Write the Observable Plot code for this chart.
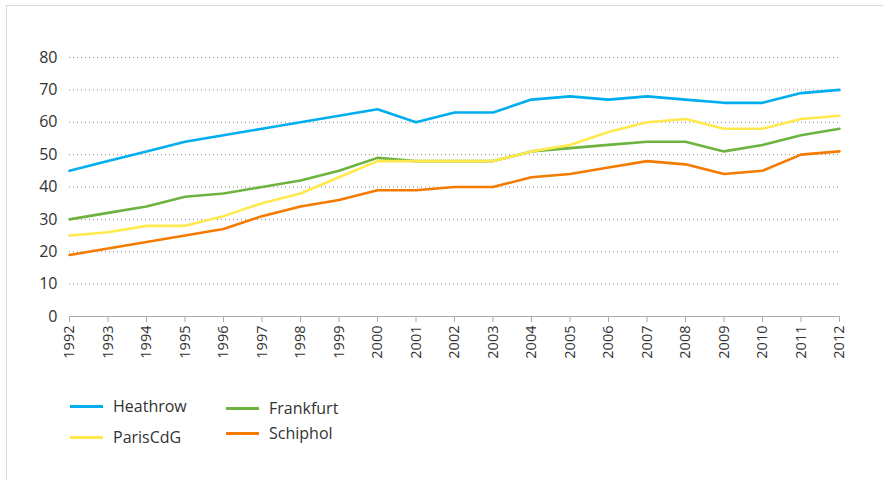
<!DOCTYPE html>
<html>
<head>
<meta charset="utf-8">
<script src="https://cdn.jsdelivr.net/npm/d3@7"></script>
<script src="https://cdn.jsdelivr.net/npm/@observablehq/plot@0.6"></script>
<style>
  body { margin: 0; background: #fff; font-family: "Open Sans", sans-serif; }
  #frame { position: absolute; left: 6px; top: 5px; width: 877px; height: 475px;
           border-left: 1.5px solid #d9d9d9; border-top: 1.5px solid #d9d9d9; }
  #chart { position: absolute; left: 0; top: 0; }
  .legend { position: absolute; font-size: 16px; color: #333; display: flex; align-items: center; }
  .legend .sw { width: 33px; height: 3px; margin-right: 10px; }
</style>
</head>
<body>
<div id="frame"></div>
<div id="chart"></div>
<div id="legend"></div>
<script>
const years = d3.range(1992, 2013);
const seriesNames = ["Heathrow", "Frankfurt", "ParisCdG", "Schiphol"];
const heathrow  = [45, 48, 51, 54, 56, 58, 60, 62, 64, 60, 63, 63, 67, 68, 67, 68, 67, 66, 66, 69, 70];
const frankfurt = [30, 32, 34, 37, 38, 40, 42, 45, 49, 48, 48, 48, 51, 52, 53, 54, 54, 51, 53, 56, 58];
const paris     = [25, 26, 28, 28, 31, 35, 38, 43, 48, 48, 48, 48, 51, 53, 57, 60, 61, 58, 58, 61, 62];
const schiphol  = [19, 21, 23, 25, 27, 31, 34, 36, 39, 39, 40, 40, 43, 44, 46, 48, 47, 44, 45, 50, 51];
const yTicks = [0, 10, 20, 30, 40, 50, 60, 70, 80];
const colors = ["#00aeef", "#6cb33f", "#ffe94d", "#f47a00"];

const valuesBySeries = [heathrow, frankfurt, paris, schiphol];
const data = [];
seriesNames.forEach((s, i) => years.forEach((y, j) => data.push({series: s, year: y, value: valuesBySeries[i][j]})));

const plot = Plot.plot({
  width: 883,
  height: 360,
  marginTop: 57,
  marginBottom: 44,
  marginLeft: 69,
  marginRight: 44,
  style: { fontFamily: "'Open Sans', sans-serif", color: "#333", background: "transparent" },
  x: { domain: [1992, 2012] },
  y: { domain: [0, 80] },
  color: { domain: seriesNames, range: colors },
  marks: [
    Plot.gridY(yTicks.filter(d => d > 0), { stroke: "#888", strokeOpacity: 1, strokeDasharray: "1,3", strokeWidth: 1 }),
    Plot.axisY(yTicks, { tickSize: 0, tickPadding: 12, fontSize: 16, label: null, fill: "#333" }),
    Plot.axisX(years, { tickSize: 6, tickRotate: -90, tickPadding: 3, fontSize: 14.5, label: null, tickFormat: d => String(d), stroke: "#aaa", fill: "#333" }),
    Plot.ruleY([0], { stroke: "#aaa", strokeWidth: 1.2 }),
    Plot.line(data, { x: "year", y: "value", z: "series", stroke: "series", strokeWidth: 2.6 })
  ]
});
document.getElementById("chart").appendChild(plot);

const legendPos = [
  { left: 70, top: 395 },
  { left: 226, top: 397 },
  { left: 70, top: 426 },
  { left: 226, top: 422 }
];
const leg = document.getElementById("legend");
seriesNames.forEach((s, i) => {
  const el = document.createElement("div");
  el.className = "legend";
  el.style.left = legendPos[i].left + "px";
  el.style.top = legendPos[i].top + "px";
  const sw = document.createElement("span");
  sw.className = "sw";
  sw.style.background = colors[i];
  const t = document.createElement("span");
  t.textContent = s;
  el.appendChild(sw); el.appendChild(t);
  leg.appendChild(el);
});
</script>
</body>
</html>
